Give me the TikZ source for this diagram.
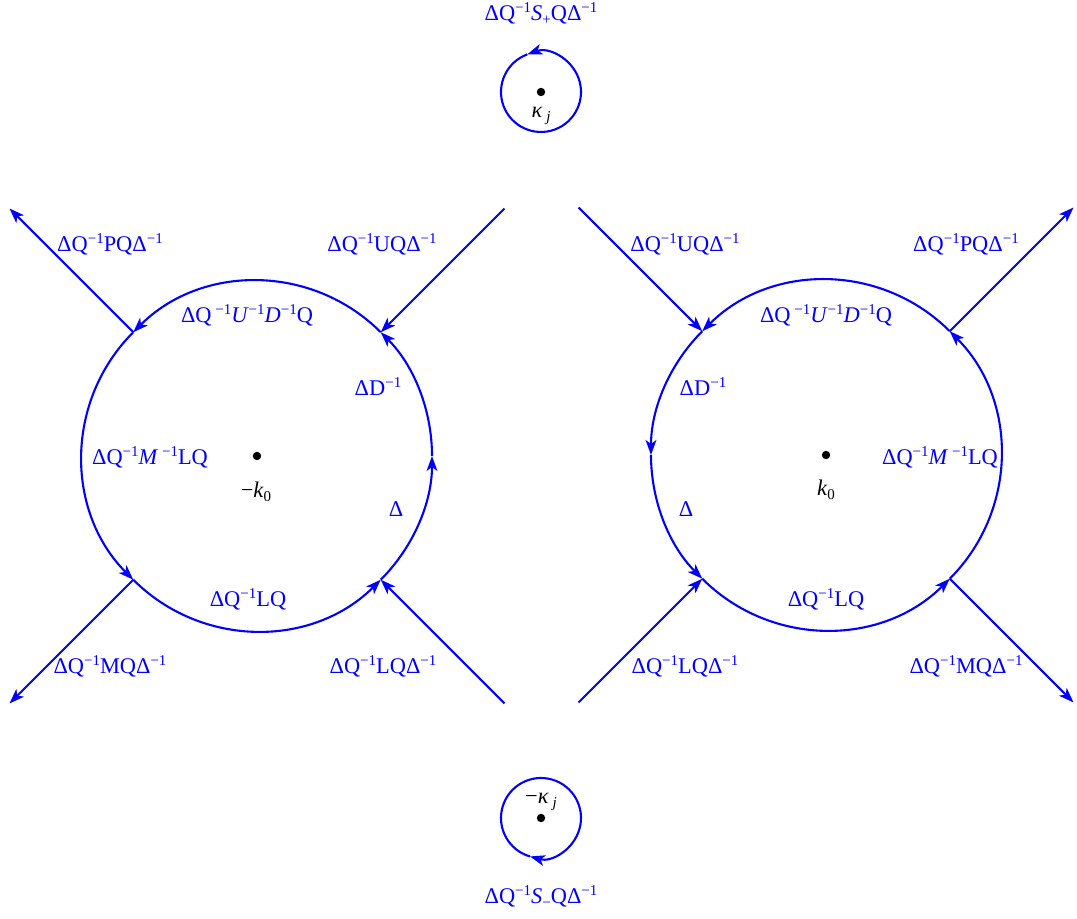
\documentclass[tikz,border=0pt]{standalone}
\usepackage{fontspec}
\setmainfont{Liberation Serif}
\usetikzlibrary{arrows.meta,calc}
% raised and lowered small indices set in text
\newcommand\up[1]{\raisebox{4pt}{\fontsize{7.5}{7.5}\selectfont #1}}
\newcommand\dn[1]{\raisebox{-2pt}{\fontsize{7.5}{7.5}\selectfont #1}}
\begin{document}
\begin{tikzpicture}[x=0.5pt,y=0.5pt,
  curve/.style={blue, line width=1.05pt},
  arr/.style={curve, -{Stealth[length=7.5pt,width=5.4pt,inset=2pt]}},
  lbl/.style={text=blue, font=\fontsize{11.2}{13}\selectfont, inner sep=0pt},
  blk/.style={text=black, font=\fontsize{11.2}{13}\selectfont, inner sep=0pt},
  dot/.style={circle, fill=black, minimum size=4.2pt, inner sep=0pt}]
\useasboundingbox (0,0) rectangle (1077,919);

% centres of the four contours
\coordinate (L) at (257,463);
\coordinate (R) at (826,464);
\coordinate (T) at (541,827);
\coordinate (B) at (541,101);

\node[dot] (Ldot) at (L) {};
\node[dot] (Rdot) at (R) {};
\node[dot] (Tdot) at (T) {};
\node[dot] (Bdot) at (B) {};

% junctions on the big circles and the far ends of the rays
\foreach \c in {L,R}{
  \foreach \a in {0,45,135,180,225,315}
    \coordinate (\c\a) at ($(\c)+(\a:175)$);
  \foreach \a in {45,135,225,315}
    \coordinate (\c o\a) at ($(\c)+(\a:350)$);
}

% left circle, counterclockwise
\draw[arr] (L315) arc[start angle=-45, end angle=0, radius=175];
\draw[arr] (L0)   arc[start angle=0, end angle=45, radius=175];
\draw[arr] (L45)  arc[start angle=45, end angle=135, radius=175];
\draw[arr] (L135) arc[start angle=135, end angle=225, radius=175];
\draw[arr] (L225) arc[start angle=225, end angle=315, radius=175];
\draw[arr] (L135) -- (Lo135);
\draw[arr] (Lo45) -- (L45);
\draw[arr] (L225) -- (Lo225);
\draw[arr] (Lo315) -- (L315);

% right circle, counterclockwise
\draw[arr] (R135) arc[start angle=135, end angle=180, radius=175];
\draw[arr] (R180) arc[start angle=180, end angle=225, radius=175];
\draw[arr] (R225) arc[start angle=225, end angle=315, radius=175];
\draw[arr] (R315) arc[start angle=-45, end angle=45, radius=175];
\draw[arr] (R45)  arc[start angle=45, end angle=135, radius=175];
\draw[arr] (Ro135) -- (R135);
\draw[arr] (R45) -- (Ro45);
\draw[arr] (Ro225) -- (R225);
\draw[arr] (R315) -- (Ro315);

% small circles around the poles
\coordinate (Ta) at ($(T)+(110:40)$);
\coordinate (Ba) at ($(B)+(254:40)$);
\draw[arr] (Ta) arc[start angle=-250, end angle=110, radius=40];
\draw[arr] (Ba) arc[start angle=614, end angle=254, radius=40];

% labels of the left circle
\node[lbl] (l1) at (110,675) {ΔQ\up{−1}PQΔ\up{−1}};
\node[lbl] (l2) at (382,675) {ΔQ\up{−1}UQΔ\up{−1}};
\node[lbl] (l3) at (247,604) {ΔQ\,\up{−1}\textit{U}\up{−1}\textit{D}\up{−1}Q};
\node[lbl] (l4) at (378,532) {ΔD\up{−1}};
\node[lbl] (l5) at (150,462) {ΔQ\up{−1}\textit{M}\,\up{−1}LQ};
\node[lbl] (l6) at (396,410) {Δ};
\node[lbl] (l7) at (248,320) {ΔQ\up{−1}LQ};
\node[lbl] (l8) at (110,253) {ΔQ\up{−1}MQΔ\up{−1}};
\node[lbl] (l9) at (383,253) {ΔQ\up{−1}LQΔ\up{−1}};
\node[blk] (lk) at (256,427) {−\textit{k}\dn{0}};

% labels of the right circle
\node[lbl] (r1) at (685,675) {ΔQ\up{−1}UQΔ\up{−1}};
\node[lbl] (r2) at (966,675) {ΔQ\up{−1}PQΔ\up{−1}};
\node[lbl] (r3) at (826,604) {ΔQ\,\up{−1}\textit{U}\up{−1}\textit{D}\up{−1}Q};
\node[lbl] (r4) at (703,532) {ΔD\up{−1}};
\node[lbl] (r5) at (940,462) {ΔQ\up{−1}\textit{M}\,\up{−1}LQ};
\node[lbl] (r6) at (686,410) {Δ};
\node[lbl] (r7) at (826,320) {ΔQ\up{−1}LQ};
\node[lbl] (r8) at (685,253) {ΔQ\up{−1}LQΔ\up{−1}};
\node[lbl] (r9) at (966,253) {ΔQ\up{−1}MQΔ\up{−1}};
\node[blk] (rk) at (826,429) {\textit{k}\dn{0}};

% labels of the small circles
\node[lbl] (t1) at (541,905) {ΔQ\up{−1}\textit{S}\dn{+}QΔ\up{−1}};
\node[blk] (tk) at (541,803) {\textit{κ}\,\dn{\textit{j}}};
\node[blk] (bk) at (541,117) {−\textit{κ}\,\dn{\textit{j}}};
\node[lbl] (b1) at (541,22) {ΔQ\up{−1}\textit{S}\dn{−}QΔ\up{−1}};
\end{tikzpicture}
\end{document}
